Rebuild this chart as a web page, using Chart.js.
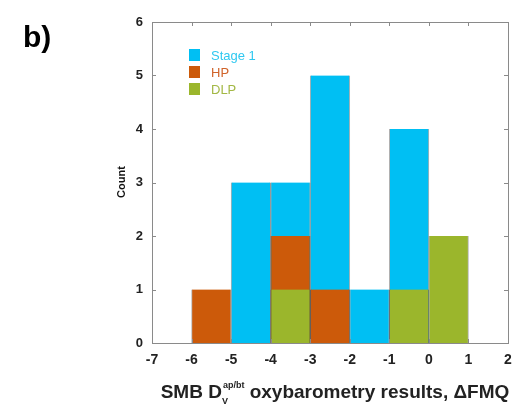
<!DOCTYPE html>
<html>
<head>
<meta charset="utf-8">
<script src="https://cdn.jsdelivr.net/npm/chart.js@4"></script>
<style>
  html, body { margin: 0; padding: 0; background: #fff; }
  #wrap { width: 529px; height: 417px; position: relative; }
</style>
</head>
<body>
<div id="wrap"><canvas id="c" width="529" height="417"></canvas></div>
<script>
// Histogram bins (centres of 1-unit bins from -7 to 2)
const binCenters = [-6.5, -5.5, -4.5, -3.5, -2.5, -1.5, -0.5, 0.5, 1.5];
const stage1 = [0, 0, 3, 3, 5, 1, 4, 0, 0];
const hp     = [0, 1, 0, 2, 1, 0, 0, 0, 0];
const dlp    = [0, 0, 0, 1, 0, 0, 1, 2, 0];
const seriesNames = ['Stage 1', 'HP', 'DLP'];
const xTicks = [-7, -6, -5, -4, -3, -2, -1, 0, 1, 2];
const yTicks = [0, 1, 2, 3, 4, 5, 6];

const colors = ['#00BFF3', '#CC5A0A', '#9BB62C'];
const legendTextColors = ['#2FC8F0', '#D0632A', '#A3B845'];
const axisGrey = '#8a8a8a';

function toPoints(vals) {
  return binCenters.map((x, i) => ({ x: x, y: vals[i] }));
}

const barStyle = {
  borderWidth: { left: 1, right: 1, top: 0, bottom: 0 },
  borderColor: 'rgba(30,30,30,0.35)',
  barPercentage: 1.0,
  categoryPercentage: 1.0,
  grouped: false
};

// Frame, inward ticks, legend and titles
const decor = {
  id: 'decor',
  afterDraw(chart) {
    const ctx = chart.ctx;
    const a = chart.chartArea;
    const xs = chart.scales.x, ys = chart.scales.y;
    ctx.save();
    ctx.strokeStyle = axisGrey;
    ctx.lineWidth = 1;
    ctx.strokeRect(Math.round(a.left) + 0.5, Math.round(a.top) + 0.5,
                   Math.round(a.right - a.left), Math.round(a.bottom - a.top));
    const tl = 4;
    ctx.beginPath();
    xTicks.forEach(v => {
      const px = Math.round(xs.getPixelForValue(v)) + 0.5;
      ctx.moveTo(px, a.top); ctx.lineTo(px, a.top + tl);
      ctx.moveTo(px, a.bottom); ctx.lineTo(px, a.bottom - tl);
    });
    yTicks.forEach(v => {
      const py = Math.round(ys.getPixelForValue(v)) + 0.5;
      ctx.moveTo(a.left, py); ctx.lineTo(a.left + tl, py);
      ctx.moveTo(a.right, py); ctx.lineTo(a.right - tl, py);
    });
    ctx.stroke();

    // legend
    ctx.textBaseline = 'middle';
    ctx.textAlign = 'left';
    ctx.font = '13px "Liberation Sans", Arial, sans-serif';
    const lx = 189, ly0 = 55, dy = 17;
    chart.data.datasets.forEach((ds, i) => {
      const cy = ly0 + i * dy;
      ctx.fillStyle = colors[i];
      ctx.fillRect(lx, cy - 6, 11, 12);
      ctx.fillStyle = legendTextColors[i];
      ctx.fillText(ds.label, lx + 22, cy + 1);
    });

    // panel letter
    ctx.fillStyle = '#000';
    ctx.font = 'bold 30px "Liberation Sans", Arial, sans-serif';
    ctx.textBaseline = 'alphabetic';
    ctx.fillText('b)', 23, 47);

    // y title
    ctx.save();
    ctx.translate(121, 182);
    ctx.rotate(-Math.PI / 2);
    ctx.textAlign = 'center';
    ctx.font = 'bold 11px "Liberation Sans", Arial, sans-serif';
    ctx.fillStyle = '#111';
    ctx.fillText('Count', 0, 4);
    ctx.restore();

    // x title with sub/superscript
    const big = 'bold 19px "Liberation Sans", Arial, sans-serif';
    const small = 'bold 9px "Liberation Sans", Arial, sans-serif';
    const head = 'SMB D', sub = 'V', sup = 'ap/bt', tail = ' oxybarometry results, \u0394FMQ';
    ctx.font = big;
    const wHead = ctx.measureText(head).width, wTail = ctx.measureText(tail).width;
    ctx.font = small;
    const wSup = ctx.measureText(sup).width;
    const total = wHead + wSup + 1 + wTail;
    let x = 335 - total / 2;
    const by = 398;
    ctx.textAlign = 'left';
    ctx.fillStyle = '#222';
    ctx.font = big; ctx.fillText(head, x, by); x += wHead;
    ctx.font = small;
    ctx.fillText(sub, x, by + 6);
    ctx.fillText(sup, x + 1, by - 10);
    x += wSup + 1;
    ctx.font = big; ctx.fillText(tail, x, by);
    ctx.restore();
  }
};

new Chart(document.getElementById('c'), {
  type: 'bar',
  data: {
    datasets: [
      Object.assign({ label: seriesNames[0], data: toPoints(stage1), backgroundColor: colors[0], order: 3 }, barStyle),
      Object.assign({ label: seriesNames[1], data: toPoints(hp), backgroundColor: colors[1], order: 2 }, barStyle),
      Object.assign({ label: seriesNames[2], data: toPoints(dlp), backgroundColor: colors[2], order: 1 }, barStyle)
    ]
  },
  options: {
    responsive: false,
    animation: false,
    layout: { padding: { left: 0, top: 22, right: 21, bottom: 0 } },
    plugins: { legend: { display: false }, tooltip: { enabled: false } },
    scales: {
      x: {
        type: 'linear',
        min: -7, max: 2,
        offset: false,
        grid: { display: false, drawTicks: false },
        border: { display: false },
        afterBuildTicks: s => { s.ticks = xTicks.map(v => ({ value: v })); },
        afterFit: s => { s.height = 74; },
        ticks: {
          padding: 9,
          color: '#222',
          font: { family: '"Liberation Sans", Arial, sans-serif', size: 14, weight: 'bold' },
          maxRotation: 0,
          autoSkip: false
        }
      },
      y: {
        min: 0, max: 6,
        grid: { display: false, drawTicks: false },
        border: { display: false },
        afterBuildTicks: s => { s.ticks = yTicks.map(v => ({ value: v })); },
        afterFit: s => { s.width = 152; },
        ticks: {
          padding: 9,
          color: '#222',
          font: { family: '"Liberation Sans", Arial, sans-serif', size: 13, weight: 'bold' }
        }
      }
    }
  },
  plugins: [decor]
});
</script>
</body>
</html>
